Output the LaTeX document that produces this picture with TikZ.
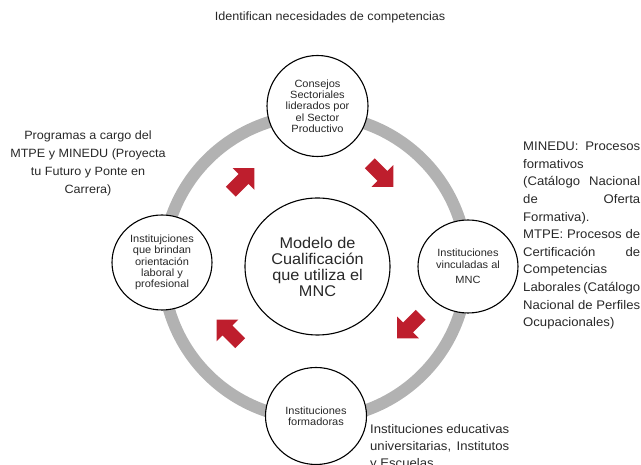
\documentclass[tikz,border=0pt]{standalone}
\usepackage{fontspec}
\setmainfont{Liberation Sans}[FakeStretch=1.05]
\usetikzlibrary{shapes.geometric}
\definecolor{arrowred}{RGB}{190,30,45}
\definecolor{ringgray}{RGB}{178,178,178}
\definecolor{txtgray}{RGB}{40,40,40}
\newcommand\spreadline[2]{\makebox[#1][s]{#2}}

\begin{document}
\begin{tikzpicture}[x=1pt, y=1pt,
		circ/.style={ellipse, draw=black, line width=1.1pt, fill=white, inner sep=0pt, align=center, text=txtgray, font=\fontsize{10.5}{11.3}\selectfont},
		side/.style={inner sep=0pt, text=txtgray, font=\fontsize{12.5}{17.6}\selectfont}]
		\useasboundingbox (0,0) rectangle (641,465);
		
		% Ring
		\draw[ringgray, line width=12pt] (315,198) circle (152);
		
		% Circles
		\node[circ, minimum width=145pt, minimum height=137pt, font=\fontsize{15.5}{16}\selectfont] (modelo) at (317.5,198.5) {Modelo de\\Cualificación\\que utiliza el\\MNC};
		\node[circ, minimum width=101pt, minimum height=101pt] (consejos) at (317.5,359) {Consejos\\Sectoriales\\liderados por\\el Sector\\Productivo};
		\node[circ, minimum width=100pt, minimum height=93pt] (vinculadas) at (468,198.5) {Instituciones\\vinculadas al\\[4pt]MNC};
		\node[circ, minimum width=100pt, minimum height=95pt] (orientacion) at (162,202.5) {Institujciones\\que brindan\\orientación\\laboral y\\profesional};
		\node[circ, minimum width=101pt, minimum height=97pt] (formadoras) at (316,49) {Instituciones\\formadoras};
		
		% Arrows
		\foreach \px/\py/\ang in {243.5/286/45, 382.5/289/-45, 408/137.5/-135, 227.5/134.5/135}
			\fill[arrowred, shift={(\px,\py)}, rotate=\ang] (-18,-7) -- (0,-7) -- (0,-15.5) -- (15.5,0) -- (0,15.5) -- (0,7) -- (-18,7) -- cycle;
		
		% Texts
		\node[side, font=\fontsize{12}{14}\selectfont] (identifican) at (330,448) {Identifican necesidades de competencias};
		\node[side, align=center, font=\fontsize{12}{18}\selectfont] (programas) at (88,301.5) {Programas a cargo del\\MTPE y MINEDU (Proyecta\\tu Futuro y Ponte en\\Carrera)};
		\node[side, anchor=north west, align=left] (minedu) at (523,323) {\spreadline{117pt}{MINEDU: Procesos}\\formativos\\\spreadline{117pt}{(Catálogo Nacional}\\\spreadline{117pt}{de Oferta}\\Formativa).\\\spreadline{117pt}{MTPE: Procesos de}\\\spreadline{117pt}{Certificación de}\\Competencias\\\spreadline{117pt}{Laborales (Catálogo}\\\spreadline{117pt}{Nacional de Perfiles}\\Ocupacionales)};
		\node[side, anchor=north west, align=left, font=\fontsize{12.5}{17}\selectfont] (educativas) at (370,40.5) {\spreadline{139pt}{Instituciones educativas}\\\spreadline{139pt}{universitarias, Institutos}\\y Escuelas};
	\end{tikzpicture}
\end{document}
